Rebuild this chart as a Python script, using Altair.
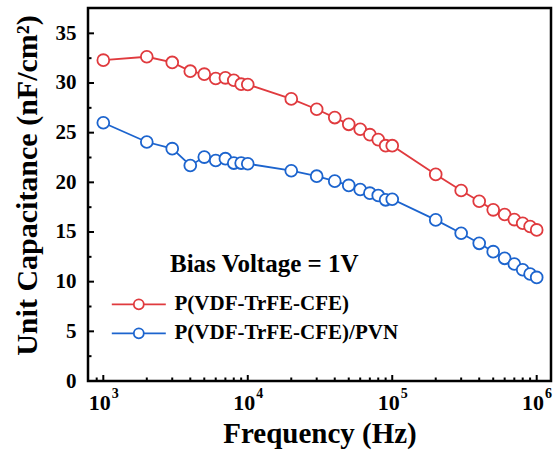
import altair as alt
import pandas as pd

# ---- data ----
FREQ = [1e3, 2e3, 3e3, 4e3, 5e3, 6e3, 7e3, 8e3, 9e3,
        1e4, 2e4, 3e4, 4e4, 5e4, 6e4, 7e4, 8e4, 9e4,
        1e5, 2e5, 3e5, 4e5, 5e5, 6e5, 7e5, 8e5, 9e5, 1e6]
RED = [32.3, 32.64, 32.07, 31.19, 30.89, 30.45, 30.52, 30.28, 29.88,
       29.85, 28.4, 27.36, 26.52, 25.84, 25.34, 24.8, 24.3, 23.69,
       23.69, 20.8, 19.18, 18.1, 17.23, 16.76, 16.25, 15.88, 15.55, 15.21]
BLUE = [26.0, 24.06, 23.39, 21.7, 22.54, 22.2, 22.38, 21.94, 21.94,
        21.87, 21.17, 20.62, 20.12, 19.69, 19.28, 18.91, 18.68, 18.24,
        18.3, 16.22, 14.87, 13.86, 13.02, 12.35, 11.78, 11.2, 10.77, 10.43]
SERIES = ["P(VDF-TrFE-CFE)", "P(VDF-TrFE-CFE)/PVN"]
COLORS = ["#E03A3E", "#1C64CE"]

Y_MAJOR = [0, 5, 10, 15, 20, 25, 30, 35]
Y_MINOR = [2.5, 7.5, 12.5, 17.5, 22.5, 27.5, 32.5]
X_MAJOR = [1e3, 1e4, 1e5, 1e6]
X_MINOR = [9e2,
           2e3, 3e3, 4e3, 5e3, 6e3, 7e3, 8e3, 9e3,
           2e4, 3e4, 4e4, 5e4, 6e4, 7e4, 8e4, 9e4,
           2e5, 3e5, 4e5, 5e5, 6e5, 7e5, 8e5, 9e5]
X_EXP = ["3", "4", "5", "6"]
BIAS = "Bias Voltage = 1V"
X_TITLE = "Frequency (Hz)"
Y_TITLE = "Unit Capacitance (nF/cm²)"

FONT = "Liberation Serif"

df = pd.DataFrame({
    "f": FREQ * 2,
    "c": RED + BLUE,
    "s": [SERIES[0]] * len(FREQ) + [SERIES[1]] * len(FREQ),
})

xs = alt.Scale(type="log", domain=[783.5, 1.256e6], nice=False)
ys = alt.Scale(domain=[0, 37.55], nice=False, zero=False)

x_enc = alt.X("f:Q", scale=xs, axis=alt.Axis(
    labels=False, ticks=False, domain=False, grid=False,
    title=X_TITLE, titleFont=FONT, titleFontSize=29, titleFontWeight="bold",
    titleColor="black", titleY=61, titleBaseline="alphabetic"))
y_enc = alt.Y("c:Q", scale=ys, axis=alt.Axis(
    values=Y_MAJOR, ticks=False, domain=False, grid=False,
    labelFont=FONT, labelFontSize=21, labelFontWeight="bold", labelColor="black",
    labelPadding=12,
    title=Y_TITLE, titleFont=FONT, titleFontSize=30, titleFontWeight="bold",
    titleColor="black", titleX=-52, titleY=177, titleBaseline="alphabetic"))

SYM = "M-5.4,0L-1,0M1,0L5.4,0M-1,0A1,1 0 1,0 1,0A1,1 0 1,0 -1,0Z"

line = alt.Chart(df).mark_line(strokeWidth=1.8).encode(
    x=x_enc, y=y_enc,
    color=alt.Color("s:N", scale=alt.Scale(domain=SERIES, range=COLORS), legend=None),
)

pts = alt.Chart(df).mark_point(filled=True, fill="white", size=140,
                               strokeWidth=1.8, opacity=1).encode(
    x="f:Q", y="c:Q",
    stroke=alt.Stroke("s:N", scale=alt.Scale(domain=SERIES, range=COLORS),
                      legend=alt.Legend(
                          title=None, orient="none", direction="vertical",
                          legendX=40.3, legendY=285.8, padding=0,
                          symbolType=SYM, symbolSize=100, symbolStrokeWidth=1.8,
                          symbolFillColor="transparent",
                          labelFont=FONT, labelFontSize=21, labelFontWeight="bold",
                          labelColor="black", labelOffset=25.2, labelLimit=0,
                          rowPadding=7)),
)

ymaj = alt.Chart(pd.DataFrame({"v": Y_MAJOR})).mark_rule(color="black", strokeWidth=2).encode(
    y=alt.Y("v:Q", scale=ys), x=alt.value(0), x2=alt.value(6))
ymin = alt.Chart(pd.DataFrame({"v": Y_MINOR})).mark_rule(color="black", strokeWidth=2).encode(
    y=alt.Y("v:Q", scale=ys), x=alt.value(0), x2=alt.value(3.5))
xmaj = alt.Chart(pd.DataFrame({"v": X_MAJOR})).mark_rule(color="black", strokeWidth=2).encode(
    x=alt.X("v:Q", scale=xs), y=alt.value(373), y2=alt.value(367))
xmin = alt.Chart(pd.DataFrame({"v": X_MINOR})).mark_rule(color="black", strokeWidth=2).encode(
    x=alt.X("v:Q", scale=xs), y=alt.value(373), y2=alt.value(369.5))

lab_df = pd.DataFrame({"v": X_MAJOR, "base": ["10"] * 4, "exp": X_EXP})
xlab = alt.Chart(lab_df).mark_text(font=FONT, fontSize=22, fontWeight="bold", color="black",
                                   align="right", baseline="alphabetic", dx=7.4).encode(
    x=alt.X("v:Q", scale=xs), y=alt.value(402), text="base:N")
xexp = alt.Chart(lab_df).mark_text(font=FONT, fontSize=14, fontWeight="bold", color="black",
                                   align="left", baseline="alphabetic", dx=8.4).encode(
    x=alt.X("v:Q", scale=xs), y=alt.value(390), text="exp:N")

note = alt.Chart(pd.DataFrame({"t": [BIAS]})).mark_text(
    font=FONT, fontSize=25, fontWeight="bold", color="black",
    align="left", baseline="alphabetic").encode(
    x=alt.value(82), y=alt.value(264), text="t:N")

chart = alt.layer(ymaj, ymin, xmaj, xmin, line, pts, xlab, xexp, note).resolve_scale(
    color="independent", stroke="independent"
).properties(
    width=463, height=373,
    autosize=alt.AutoSizeParams(type="none"),
    padding={"left": 88, "top": 8, "right": 6, "bottom": 78},
    background="white",
).configure_view(stroke="black", strokeWidth=2.5)

chart.save("out.html", embed_options={"renderer": "svg", "actions": False})
